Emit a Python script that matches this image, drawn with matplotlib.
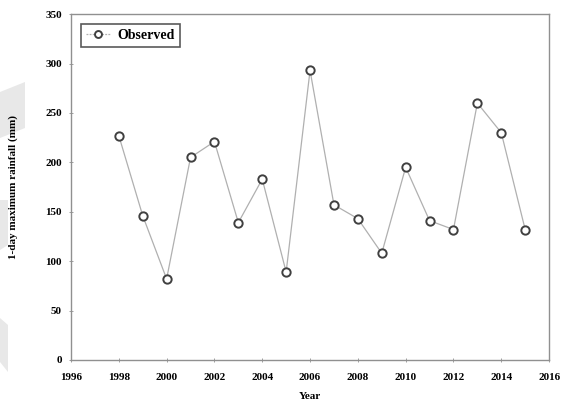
import matplotlib
matplotlib.use("Agg")
import matplotlib.pyplot as plt
from matplotlib.patches import Polygon

years = [1998, 1999, 2000, 2001, 2002, 2003, 2004, 2005, 2006, 2007, 2008,
         2009, 2010, 2011, 2012, 2013, 2014, 2015]
rainfall = [227, 146, 82, 205, 221, 139, 183, 89, 293, 157, 143,
            108, 195, 141, 132, 260, 230, 132]
x_ticks = [1996, 1998, 2000, 2002, 2004, 2006, 2008, 2010, 2012, 2014, 2016]
y_ticks = [0, 50, 100, 150, 200, 250, 300, 350]

plt.rcParams['font.family'] = ['Liberation Serif', 'DejaVu Serif']
plt.rcParams['font.weight'] = 'bold'

fig = plt.figure(figsize=(5.69, 4.04), dpi=100)
ax = fig.add_axes([0.1248, 0.109, 0.8402, 0.856])

# faint grey artifacts on left side
W, H = 569, 404
for pts in [[(0, 92), (25, 82), (25, 128), (0, 138)],
            [(0, 200), (8, 200), (8, 245), (0, 250)],
            [(0, 318), (8, 325), (8, 372), (0, 362)]]:
    fig.patches.append(Polygon([(x / W, 1 - y / H) for x, y in pts], closed=True,
                               transform=fig.transFigure, facecolor='#e8e8e8',
                               edgecolor='none', zorder=-1))

ax.plot(years, rainfall, color='#b0b0b0', lw=0.9, marker='o', markersize=6,
        markerfacecolor='white', markeredgecolor='#404040', markeredgewidth=1.4,
        label='Observed')

ax.set_xlim(1996, 2016)
ax.set_ylim(0, 350)
ax.set_xticks(x_ticks)
ax.set_yticks(y_ticks)
ax.tick_params(axis='both', labelsize=8, length=3, width=0.6, color='#909090',
               direction='inout')
ax.tick_params(axis='x', pad=8)
ax.tick_params(axis='y', pad=5)
for lab in ax.get_xticklabels() + ax.get_yticklabels():
    lab.set_fontweight('bold')
for s in ax.spines.values():
    s.set_color('#909090')
    s.set_linewidth(1.0)

ax.set_xlabel('Year', fontsize=8, fontweight='bold', labelpad=7)
ax.set_ylabel('1-day maximum rainfall (mm)', fontsize=8, fontweight='bold', labelpad=20)

leg = ax.legend(loc='upper left', fontsize=10, frameon=True, fancybox=False,
                borderpad=0.35, handlelength=1.8, handletextpad=0.5,
                bbox_to_anchor=(0.006, 0.992))
leg.get_frame().set_edgecolor('#303030')
leg.get_frame().set_linewidth(1.2)
for t in leg.get_texts():
    t.set_fontweight('bold')
for h in leg.legend_handles:
    h.set_markersize(5)
    h.set_linestyle((0, (1.5, 1)))

fig.savefig('out.png', dpi=100)
